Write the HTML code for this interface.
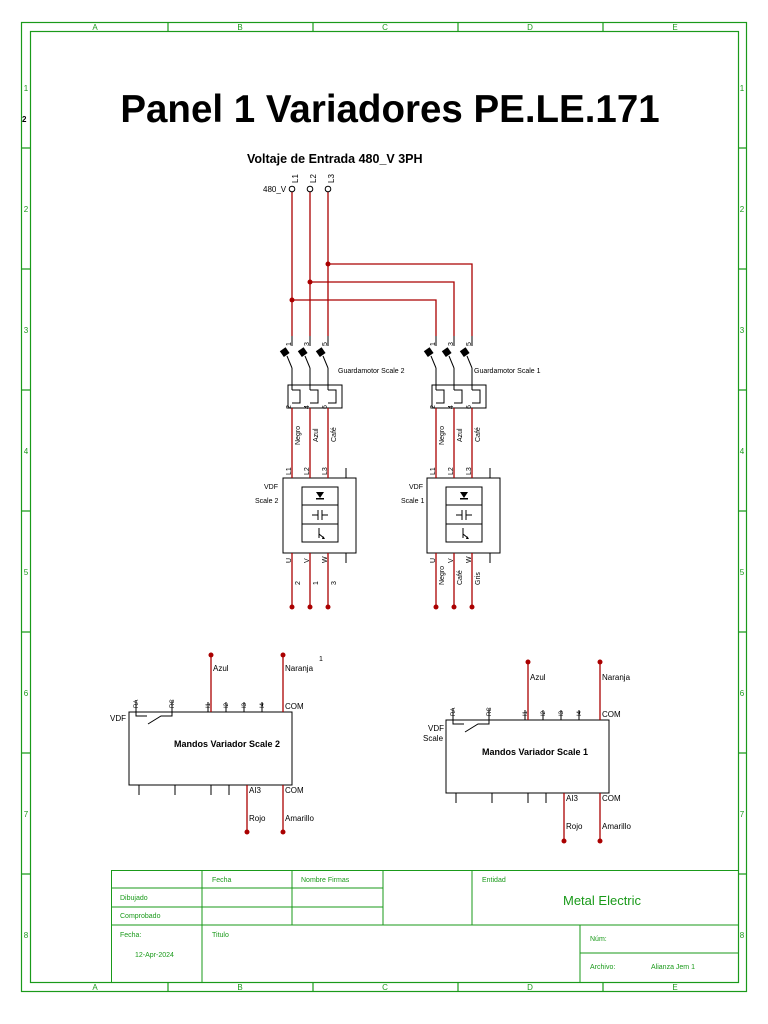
<!DOCTYPE html>
<html><head><meta charset="utf-8"><style>
html,body{margin:0;padding:0;background:#fff}
svg{display:block}
text{font-family:"Liberation Sans",sans-serif}
</style></head><body>
<svg width="768" height="1024" viewBox="0 0 768 1024" xmlns="http://www.w3.org/2000/svg">
<defs>
<g id="unit">
  <g stroke="#000" stroke-width="1" fill="none">
    <line x1="292" y1="336" x2="292" y2="346"/><line x1="310" y1="336" x2="310" y2="346"/><line x1="328" y1="336" x2="328" y2="346"/>
    <line x1="287" y1="356" x2="292" y2="368"/><line x1="305" y1="356" x2="310" y2="368"/><line x1="323" y1="356" x2="328" y2="368"/>
    <line x1="292" y1="368" x2="292" y2="390"/><line x1="310" y1="368" x2="310" y2="390"/><line x1="328" y1="368" x2="328" y2="390"/>
    <rect x="288" y="385" width="54" height="23"/>
    <path d="M292,390 H300 V403 H292 M310,390 H318 V403 H310 M328,390 H336 V403 H328"/>
    <line x1="346" y1="468" x2="346" y2="478"/><line x1="346" y1="553" x2="346" y2="563"/>
    <rect x="283" y="478" width="73" height="75"/>
    <rect x="302" y="487" width="36" height="55"/>
    <line x1="302" y1="505" x2="338" y2="505"/><line x1="302" y1="524" x2="338" y2="524"/>
    <path d="M312,515 H318 M318,510 V520 M322,510 V520 M322,515 H328"/>
    <path d="M319,528 V538 M319,534 L324,538"/>
  </g>
  <g fill="#000">
    <rect x="281" y="349" width="7" height="7" transform="rotate(-35 284 352)"/>
    <rect x="299" y="349" width="7" height="7" transform="rotate(-35 302 352)"/>
    <rect x="317" y="349" width="7" height="7" transform="rotate(-35 320 352)"/>
    <path d="M316,492 L324,492 L320,498 Z"/><rect x="316" y="498" width="8" height="1.5"/>
    <path d="M323,536 l2,3 l-3,0 z"/>
  </g>
  <g stroke="#a00" stroke-width="1.3">
    <line x1="292" y1="408" x2="292" y2="478"/><line x1="310" y1="408" x2="310" y2="478"/><line x1="328" y1="408" x2="328" y2="478"/>
    <line x1="292" y1="553" x2="292" y2="607"/><line x1="310" y1="553" x2="310" y2="607"/><line x1="328" y1="553" x2="328" y2="607"/>
  </g>
  <g fill="#a00"><circle cx="292" cy="607" r="2.5"/><circle cx="310" cy="607" r="2.5"/><circle cx="328" cy="607" r="2.5"/></g>
</g>
<g id="mando" stroke="#000" fill="none" stroke-width="1">
  <rect x="0" y="0" width="163" height="73"/>
  <path d="M7,-12 V4 H18 M43,-12 V4 H32 L19,12"/>
  <line x1="79" y1="-10" x2="79" y2="0"/><line x1="97" y1="-10" x2="97" y2="0"/><line x1="115" y1="-10" x2="115" y2="0"/><line x1="133" y1="-10" x2="133" y2="0"/><line x1="154" y1="-10" x2="154" y2="0"/>
  <line x1="10" y1="73" x2="10" y2="83"/><line x1="46" y1="73" x2="46" y2="83"/><line x1="82" y1="73" x2="82" y2="83"/><line x1="100" y1="73" x2="100" y2="83"/><line x1="118" y1="73" x2="118" y2="83"/><line x1="154" y1="73" x2="154" y2="83"/>
</g>
</defs>

<g stroke="#1a9a1a" fill="none" stroke-width="1.2">
  <rect x="21.5" y="22.5" width="725" height="969"/>
  <rect x="30.5" y="31.5" width="708" height="951"/>
  <path d="M168,22V31 M313,22V31 M458,22V31 M603,22V31 M168,982V991 M313,982V991 M458,982V991 M603,982V991"/>
  <path d="M21,148H30 M21,269H30 M21,390H30 M21,511H30 M21,632H30 M21,753H30 M21,874H30 M738,148H747 M738,269H747 M738,390H747 M738,511H747 M738,632H747 M738,753H747 M738,874H747"/>
</g>
<g fill="#1a9a1a" font-size="8" text-anchor="middle">
  <text x="95" y="30">A</text><text x="240" y="30">B</text><text x="385" y="30">C</text><text x="530" y="30">D</text><text x="675" y="30">E</text>
  <text x="95" y="990">A</text><text x="240" y="990">B</text><text x="385" y="990">C</text><text x="530" y="990">D</text><text x="675" y="990">E</text>
  <text x="26" y="91">1</text><text x="26" y="212">2</text><text x="26" y="333">3</text><text x="26" y="454">4</text><text x="26" y="575">5</text><text x="26" y="696">6</text><text x="26" y="817">7</text><text x="26" y="938">8</text>
  <text x="742" y="91">1</text><text x="742" y="212">2</text><text x="742" y="333">3</text><text x="742" y="454">4</text><text x="742" y="575">5</text><text x="742" y="696">6</text><text x="742" y="817">7</text><text x="742" y="938">8</text>
</g>
<text x="22" y="122" font-size="8" font-weight="bold">2</text>

<text x="390" y="122" font-size="38.5" font-weight="bold" text-anchor="middle">Panel 1 Variadores PE.LE.171</text>
<text x="247" y="163" font-size="12.5" font-weight="bold">Voltaje de Entrada 480_V 3PH</text>
<text x="263" y="192" font-size="8">480_V</text>
<g font-size="8"><text transform="translate(298,183) rotate(-90)">L1</text><text transform="translate(316,183) rotate(-90)">L2</text><text transform="translate(334,183) rotate(-90)">L3</text></g>

<g stroke="#a00" stroke-width="1.3" fill="none">
  <line x1="292" y1="192" x2="292" y2="336"/><line x1="310" y1="192" x2="310" y2="336"/><line x1="328" y1="192" x2="328" y2="336"/>
  <path d="M328,264 H472 V336 M310,282 H454 V336 M292,300 H436 V336"/>
</g>
<g fill="#a00"><circle cx="328" cy="264" r="2.5"/><circle cx="310" cy="282" r="2.5"/><circle cx="292" cy="300" r="2.5"/></g>
<g stroke="#000" fill="#fff"><circle cx="292" cy="189" r="2.8"/><circle cx="310" cy="189" r="2.8"/><circle cx="328" cy="189" r="2.8"/></g>

<use href="#unit"/>
<use href="#unit" transform="translate(144,0)"/>

<g font-size="7">
  <text x="338" y="373">Guardamotor Scale 2</text><text x="474" y="373">Guardamotor Scale 1</text>
  <text x="264" y="489">VDF</text><text x="255" y="503">Scale 2</text>
  <text x="409" y="489">VDF</text><text x="401" y="503">Scale 1</text>
  <text transform="translate(291,346) rotate(-90)">1</text><text transform="translate(309,346) rotate(-90)">3</text><text transform="translate(327,346) rotate(-90)">5</text>
  <text transform="translate(291,409) rotate(-90)">2</text><text transform="translate(309,409) rotate(-90)">4</text><text transform="translate(327,409) rotate(-90)">6</text>
  <text transform="translate(300,445) rotate(-90)">Negro</text><text transform="translate(318,442) rotate(-90)">Azul</text><text transform="translate(336,442) rotate(-90)">Café</text>
  <text transform="translate(291,475) rotate(-90)">L1</text><text transform="translate(309,475) rotate(-90)">L2</text><text transform="translate(327,475) rotate(-90)">L3</text>
  <text transform="translate(291,563) rotate(-90)">U</text><text transform="translate(309,563) rotate(-90)">V</text><text transform="translate(327,563) rotate(-90)">W</text>
  <text transform="translate(300,585) rotate(-90)">2</text><text transform="translate(318,585) rotate(-90)">1</text><text transform="translate(336,585) rotate(-90)">3</text>
  <text transform="translate(435,346) rotate(-90)">1</text><text transform="translate(453,346) rotate(-90)">3</text><text transform="translate(471,346) rotate(-90)">5</text>
  <text transform="translate(435,409) rotate(-90)">2</text><text transform="translate(453,409) rotate(-90)">4</text><text transform="translate(471,409) rotate(-90)">6</text>
  <text transform="translate(444,445) rotate(-90)">Negro</text><text transform="translate(462,442) rotate(-90)">Azul</text><text transform="translate(480,442) rotate(-90)">Café</text>
  <text transform="translate(435,475) rotate(-90)">L1</text><text transform="translate(453,475) rotate(-90)">L2</text><text transform="translate(471,475) rotate(-90)">L3</text>
  <text transform="translate(435,563) rotate(-90)">U</text><text transform="translate(453,563) rotate(-90)">V</text><text transform="translate(471,563) rotate(-90)">W</text>
  <text transform="translate(444,585) rotate(-90)">Negro</text><text transform="translate(462,585) rotate(-90)">Café</text><text transform="translate(480,585) rotate(-90)">Gris</text>
</g>

<use href="#mando" transform="translate(129,712)"/>
<use href="#mando" transform="translate(446,720)"/>
<g stroke="#a00" stroke-width="1.3">
  <line x1="211" y1="655" x2="211" y2="712"/><line x1="283" y1="655" x2="283" y2="712"/>
  <line x1="247" y1="785" x2="247" y2="832"/><line x1="283" y1="785" x2="283" y2="832"/>
  <line x1="528" y1="662" x2="528" y2="720"/><line x1="600" y1="662" x2="600" y2="720"/>
  <line x1="564" y1="793" x2="564" y2="841"/><line x1="600" y1="793" x2="600" y2="841"/>
</g>
<g fill="#a00">
  <circle cx="211" cy="655" r="2.5"/><circle cx="283" cy="655" r="2.5"/><circle cx="247" cy="832" r="2.5"/><circle cx="283" cy="832" r="2.5"/>
  <circle cx="528" cy="662" r="2.5"/><circle cx="600" cy="662" r="2.5"/><circle cx="564" cy="841" r="2.5"/><circle cx="600" cy="841" r="2.5"/>
</g>
<g font-size="8">
  <text x="213" y="671">Azul</text><text x="285" y="671">Naranja</text><text x="319" y="661" font-size="7">1</text>
  <text x="285" y="709">COM</text><text x="285" y="793">COM</text><text x="249" y="793">AI3</text>
  <text x="249" y="821">Rojo</text><text x="285" y="821">Amarillo</text>
  <text x="110" y="721">VDF</text>
  <text x="174" y="747" font-size="9" font-weight="bold">Mandos Variador Scale 2</text>
  <text x="530" y="680">Azul</text><text x="602" y="680">Naranja</text>
  <text x="602" y="717">COM</text><text x="602" y="801">COM</text><text x="566" y="801">AI3</text>
  <text x="566" y="829">Rojo</text><text x="602" y="829">Amarillo</text>
  <text x="428" y="731">VDF</text><text x="423" y="741">Scale</text>
  <text x="482" y="755" font-size="9" font-weight="bold">Mandos Variador Scale 1</text>
</g>
<g font-size="6">
  <text transform="translate(138,708) rotate(-90)">RA</text><text transform="translate(174,708) rotate(-90)">RC</text>
  <text transform="translate(210,708) rotate(-90)">I1</text><text transform="translate(228,708) rotate(-90)">I2</text><text transform="translate(246,708) rotate(-90)">I3</text><text transform="translate(264,708) rotate(-90)">I4</text>
  <text transform="translate(455,716) rotate(-90)">RA</text><text transform="translate(491,716) rotate(-90)">RC</text>
  <text transform="translate(527,716) rotate(-90)">I1</text><text transform="translate(545,716) rotate(-90)">I2</text><text transform="translate(563,716) rotate(-90)">I3</text><text transform="translate(581,716) rotate(-90)">I4</text>
</g>

<g stroke="#1a9a1a" fill="none" stroke-width="1">
  <rect x="111.5" y="870.5" width="627" height="112"/>
  <path d="M111,888H383 M111,907H383 M111,925H738 M202,870V982 M292,870V925 M383,870V925 M472,870V925 M580,925V982 M580,953H738"/>
</g>
<g fill="#1a9a1a" font-size="7">
  <text x="212" y="882">Fecha</text><text x="301" y="882">Nombre Firmas</text><text x="482" y="882">Entidad</text>
  <text x="120" y="900">Dibujado</text><text x="120" y="918">Comprobado</text>
  <text x="120" y="937">Fecha:</text><text x="135" y="957">12-Apr-2024</text>
  <text x="212" y="937">Titulo</text>
  <text x="590" y="941">Núm:</text><text x="590" y="969">Archivo:</text><text x="651" y="969">Alianza Jem 1</text>
  <text x="563" y="905" font-size="13">Metal Electric</text>
</g>
</svg>
</body></html>
